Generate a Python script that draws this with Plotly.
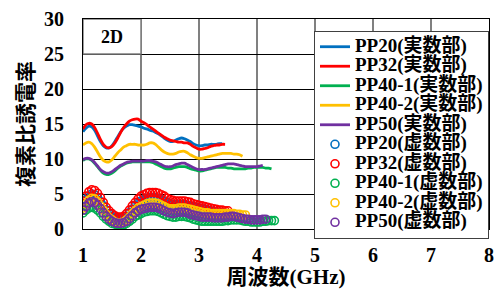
import numpy as np
import plotly.graph_objects as go

F_START = 1.0
F_STEP = 0.05

names = ["PP20", "PP32", "PP40-1", "PP40-2", "PP50"]
colors = ["#0070C0", "#FF0000", "#00B050", "#FFC000", "#7030A0"]

# real parts (実数部)
pp20_re = [13.9, 14.4, 14.7, 14.6, 14.1, 13.3, 12.5, 11.9, 11.6, 11.6, 11.9, 12.5, 13.2, 13.9, 14.4,
           14.7, 14.9, 14.9, 14.8, 14.7, 14.6, 14.4, 14.3, 14.1, 14.0, 13.8, 13.6, 13.3, 13.0, 12.7,
           12.5, 12.5, 12.7, 12.9, 13.0, 12.9, 12.7, 12.5, 12.2, 12.0, 11.9, 11.9, 12.0, 12.0, 12.1,
           12.1, 12.1, 12.2, 12.2]
pp32_re = [14.3, 14.9, 15.1, 15.0, 14.5, 13.7, 12.8, 12.1, 11.7, 11.6, 11.8, 12.3, 13.0, 13.8, 14.5,
           15.0, 15.4, 15.6, 15.7, 15.7, 15.4, 15.2, 14.9, 14.6, 14.3, 14.0, 13.7, 13.4, 13.1, 12.9,
           12.7, 12.6, 12.5, 12.4, 12.4, 12.3, 12.3, 12.1, 11.8, 11.6, 11.4, 11.4, 11.5, 11.6, 11.8,
           11.9, 12.0, 12.0, 12.1, 12.1]
pp401_re = [9.8, 10.0, 10.0, 9.8, 9.4, 8.9, 8.4, 8.0, 7.8, 7.8, 8.0, 8.3, 8.7, 9.0, 9.2,
            9.4, 9.5, 9.6, 9.6, 9.6, 9.6, 9.6, 9.6, 9.6, 9.5, 9.3, 9.1, 8.9, 8.7, 8.6,
            8.6, 8.7, 8.8, 8.9, 8.9, 8.9, 8.8, 8.6, 8.5, 8.4, 8.3, 8.3, 8.4, 8.5, 8.6,
            8.7, 8.8, 8.8, 8.8, 8.8, 8.7, 8.7, 8.6, 8.6, 8.6, 8.6, 8.6, 8.7, 8.7, 8.8,
            8.8, 8.8, 8.8, 8.7, 8.7, 8.6]
pp402_re = [12.0, 12.3, 12.4, 12.2, 11.7, 11.0, 10.3, 9.8, 9.6, 9.6, 9.9, 10.4, 10.9, 11.3, 11.7,
            11.9, 12.1, 12.1, 12.1, 12.0, 12.0, 12.0, 12.1, 12.3, 12.3, 12.1, 11.7, 11.3, 11.0, 10.8,
            10.7, 10.7, 10.8, 11.0, 11.1, 11.1, 10.9, 10.6, 10.4, 10.2, 10.1, 10.1, 10.2, 10.3, 10.4,
            10.5, 10.6, 10.7, 10.8, 10.8, 10.8, 10.8, 10.7, 10.7, 10.6, 10.4]
pp50_re = [9.9, 10.1, 10.1, 9.9, 9.5, 9.0, 8.5, 8.2, 8.0, 8.0, 8.2, 8.5, 8.8, 9.1, 9.3,
           9.5, 9.6, 9.7, 9.7, 9.7, 9.7, 9.7, 9.8, 9.8, 9.7, 9.6, 9.4, 9.2, 9.0, 8.9,
           8.9, 9.0, 9.2, 9.3, 9.4, 9.4, 9.2, 9.0, 8.8, 8.6, 8.5, 8.5, 8.5, 8.6, 8.7,
           8.8, 8.9, 9.0, 9.1, 9.2, 9.3, 9.3, 9.3, 9.2, 9.1, 9.0, 8.9, 8.9, 8.9, 8.9,
           8.9, 9.0, 9.1]

# imaginary parts (虚数部)
pp20_im = [3.6, 4.2, 4.7, 5.0, 4.9, 4.5, 3.9, 3.3, 2.7, 2.2, 1.8, 1.5, 1.4, 1.4, 1.5,
           1.8, 2.3, 2.8, 3.3, 3.7, 4.0, 4.2, 4.4, 4.5, 4.5, 4.5, 4.4, 4.2, 4.0, 3.8,
           3.6, 3.5, 3.5, 3.5, 3.5, 3.5, 3.4, 3.3, 3.2, 3.1, 3.0, 2.9, 2.8, 2.7, 2.6,
           2.5, 2.4, 2.4, 2.3]
pp32_im = [4.0, 4.7, 5.3, 5.6, 5.5, 5.1, 4.5, 3.8, 3.1, 2.6, 2.2, 1.9, 1.7, 1.7, 1.8,
           2.2, 2.7, 3.3, 3.8, 4.3, 4.7, 4.9, 5.1, 5.2, 5.2, 5.2, 5.1, 4.9, 4.7, 4.4,
           4.2, 4.1, 4.0, 4.0, 4.0, 4.0, 3.9, 3.8, 3.6, 3.5, 3.4, 3.3, 3.2, 3.1, 3.0,
           2.9, 2.8, 2.7, 2.7, 2.6, 2.6]
pp401_im = [2.3, 2.7, 3.0, 3.1, 3.0, 2.7, 2.3, 1.8, 1.4, 1.1, 0.8, 0.7, 0.6, 0.6, 0.6,
            0.8, 1.1, 1.4, 1.8, 2.0, 2.2, 2.4, 2.5, 2.6, 2.6, 2.6, 2.5, 2.3, 2.1, 1.9,
            1.8, 1.7, 1.7, 1.8, 1.8, 1.8, 1.7, 1.6, 1.4, 1.3, 1.2, 1.1, 1.1, 1.1, 1.1,
            1.1, 1.1, 1.1, 1.1, 1.2, 1.2, 1.3, 1.3, 1.3, 1.3, 1.2, 1.1, 1.1, 1.0, 1.0,
            1.0, 1.0, 1.1, 1.1, 1.2, 1.2, 1.2]
pp402_im = [3.0, 3.6, 4.1, 4.4, 4.3, 3.9, 3.3, 2.7, 2.1, 1.6, 1.3, 1.0, 0.9, 0.9, 1.0,
            1.3, 1.7, 2.2, 2.6, 3.0, 3.2, 3.4, 3.6, 3.7, 3.7, 3.7, 3.6, 3.4, 3.2, 3.0,
            2.9, 2.9, 2.9, 3.0, 3.0, 3.0, 2.9, 2.8, 2.7, 2.6, 2.5, 2.4, 2.3, 2.3, 2.2,
            2.2, 2.2, 2.2, 2.2, 2.2, 2.2, 2.2, 2.2, 2.1, 2.1, 2.0, 2.0]
pp50_im = [2.7, 3.2, 3.7, 3.9, 3.8, 3.4, 2.9, 2.3, 1.8, 1.4, 1.1, 0.9, 0.8, 0.8, 0.9,
           1.1, 1.5, 1.9, 2.3, 2.6, 2.8, 2.9, 3.0, 3.1, 3.1, 3.1, 3.0, 2.8, 2.6, 2.4,
           2.3, 2.2, 2.3, 2.4, 2.4, 2.4, 2.3, 2.1, 2.0, 1.9, 1.8, 1.7, 1.7, 1.7, 1.7,
           1.6, 1.6, 1.6, 1.6, 1.7, 1.7, 1.8, 1.8, 1.7, 1.6, 1.5, 1.4, 1.4, 1.3, 1.3,
           1.3, 1.3, 1.4, 1.4]

real_parts = [pp20_re, pp32_re, pp401_re, pp402_re, pp50_re]
imag_parts = [pp20_im, pp32_im, pp401_im, pp402_im, pp50_im]

x_ticks = [1, 2, 3, 4, 5, 6, 7, 8]
y_ticks = [0, 5, 10, 15, 20, 25, 30]


def freq(vals):
    return np.round(F_START + F_STEP * np.arange(len(vals)), 2)


SERIF = "Liberation Serif, Times New Roman, Noto Sans CJK JP, serif"
LEG_TXT = '<span style="font-size:19px">{}</span>'

fig = go.Figure()
for nm, col, vals in zip(names, colors, real_parts):
    fig.add_trace(go.Scatter(
        x=freq(vals), y=vals, mode="lines", name=LEG_TXT.format(nm + "(実数部)"),
        line=dict(color=col, width=2.8, shape="spline", smoothing=0.6)))
for nm, col, vals in zip(names, colors, imag_parts):
    fig.add_trace(go.Scatter(
        x=freq(vals), y=vals, mode="markers", name=LEG_TXT.format(nm + "(虚数部)"),
        marker=dict(symbol="circle-open", size=8, color=col, line=dict(width=1.6, color=col))))

fig.add_shape(type="rect", xref="x", yref="y", x0=1, x1=2, y0=25, y1=30,
              line=dict(color="#7f7f7f", width=1.5), fillcolor="white", layer="above")
fig.add_annotation(x=1.5, y=27.5, xref="x", yref="y", text="<b>2D</b>", showarrow=False,
                   font=dict(family=SERIF, size=18, color="black"))

# the page body adds an 8px offset, so the figure is 8px smaller on each axis
fig.update_layout(
    width=496, height=281,
    margin=dict(l=75, r=15, t=11, b=60, autoexpand=False),
    paper_bgcolor="white", plot_bgcolor="white",
    font=dict(family=SERIF, color="black"),
    showlegend=True,
    legend=dict(x=1.0, xanchor="right", y=0.943, yanchor="top",
                bgcolor="white", bordercolor="#404040", borderwidth=1,
                font=dict(family=SERIF, size=12.7, color="black", weight="bold"),
                tracegroupgap=0, itemwidth=30),
    xaxis=dict(range=[1, 8], tickvals=x_ticks, ticktext=[str(v) for v in x_ticks],
               showgrid=True, gridcolor="#808080", gridwidth=1.5,
               showline=True, linecolor="black", linewidth=1, mirror=True,
               zeroline=False, ticks="", ticklabelstandoff=8, automargin=False,
               tickfont=dict(family=SERIF, size=20, weight="bold"),
               title=dict(text="周波数(GHz)", standoff=12,
                          font=dict(family=SERIF, size=21, weight="bold"))),
    yaxis=dict(range=[0, 30], tickvals=y_ticks, ticktext=[str(v) for v in y_ticks],
               showgrid=True, gridcolor="black", gridwidth=1,
               showline=True, linecolor="black", linewidth=1, mirror=True,
               zeroline=False, ticks="", ticklabelstandoff=14, automargin=False,
               tickfont=dict(family=SERIF, size=20, weight="bold"),
               title=dict(text="複素比誘電率", standoff=4,
                          font=dict(family=SERIF, size=21, weight="bold"))),
)

fig.write_html("out.html")
